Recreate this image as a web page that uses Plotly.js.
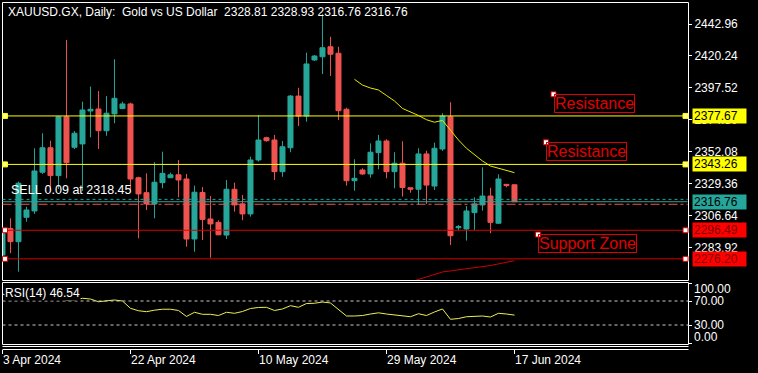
<!DOCTYPE html>
<html><head><meta charset="utf-8">
<script src="https://cdn.plot.ly/plotly-3.0.1.min.js"></script>
<style>html,body{margin:0;padding:0;background:#000;overflow:hidden}#chart{width:758px;height:373px}</style>
</head><body><div id="chart"></div>
<script>
const dates = ['2024-04-03','2024-04-04','2024-04-05','2024-04-07','2024-04-08','2024-04-09','2024-04-10','2024-04-11','2024-04-12','2024-04-14',
'2024-04-15','2024-04-16','2024-04-17','2024-04-18','2024-04-19','2024-04-21','2024-04-22','2024-04-23','2024-04-24','2024-04-25',
'2024-04-26','2024-04-28','2024-04-29','2024-04-30','2024-05-01','2024-05-02','2024-05-03','2024-05-05','2024-05-06','2024-05-07',
'2024-05-08','2024-05-09','2024-05-10','2024-05-12','2024-05-13','2024-05-14','2024-05-15','2024-05-16','2024-05-17','2024-05-19',
'2024-05-20','2024-05-21','2024-05-22','2024-05-23','2024-05-24','2024-05-26','2024-05-27','2024-05-28','2024-05-29','2024-05-30',
'2024-05-31','2024-06-02','2024-06-03','2024-06-04','2024-06-05','2024-06-06','2024-06-07','2024-06-09','2024-06-10','2024-06-11',
'2024-06-12','2024-06-13','2024-06-14','2024-06-16','2024-06-17'];
const open = [2278.9,2297.8,2288.4,2305.7,2310.2,2337.7,2355.1,2335.3,2377.1,2355.4,
2357.8,2381.2,2382.6,2367.2,2379.1,2382.9,2386.2,2333.8,2323.2,2315.2,
2330.3,2333.8,2335.9,2332.9,2290.3,2323.3,2304.5,2302.1,2293.1,2325.6,
2315.2,2308.1,2346.4,2362.2,2360.6,2338.1,2355.1,2391.8,2377.6,2417.4,
2419.7,2426.8,2422.2,2382.4,2331.7,2339.3,2336.5,2351.6,2359.9,2338.1,
2344.1,2326.7,2325.6,2350.7,2327.9,2354.2,2377.1,2298.3,2297.4,2309.0,
2314.5,2320.8,2301.5,2329.1,2328.81];
const high = [2296.7,2305.0,2331.0,2313.2,2354.7,2365.4,2360.1,2377.6,2431.6,2367.0,
2387.8,2398.5,2395.4,2391.8,2417.9,2387.8,2387.1,2334.5,2336.9,2344.8,
2352.3,2337.4,2346.4,2336.5,2328.2,2327.2,2320.8,2303.6,2332.2,2330.3,
2321.5,2348.7,2378.3,2362.9,2364.2,2359.9,2392.5,2397.7,2422.6,2420.9,
2450.1,2433.9,2426.8,2383.5,2346.9,2340.5,2358.2,2364.2,2361.1,2351.9,
2359.7,2326.7,2354.7,2353.0,2358.7,2379.6,2387.4,2300.2,2313.7,2319.9,
2341.2,2326.7,2336.2,2329.1,2328.93];
const low = [2276.5,2280.2,2267.1,2302.6,2308.1,2336.5,2325.1,2325.8,2333.4,2354.2,
2324.4,2362.5,2354.2,2363.6,2372.5,2382.9,2325.1,2290.8,2310.9,2305.0,
2326.3,2333.8,2319.9,2284.8,2281.3,2289.6,2277.0,2293.0,2290.3,2309.7,
2303.6,2306.2,2345.2,2359.4,2332.2,2334.5,2351.9,2370.5,2373.6,2416.7,
2407.5,2406.0,2374.8,2328.2,2324.6,2335.8,2333.8,2339.8,2333.4,2326.3,
2320.4,2323.2,2314.5,2315.2,2325.1,2352.8,2286.0,2296.7,2289.2,2296.7,
2310.4,2294.4,2301.0,2327.0,2316.76];
const close = [2294.4,2288.4,2329.9,2310.9,2338.6,2355.1,2335.3,2377.1,2344.5,2365.4,
2381.9,2382.4,2367.2,2379.6,2390.2,2386.2,2332.9,2322.3,2315.2,2330.6,
2336.9,2335.9,2332.2,2290.3,2323.5,2304.2,2301.0,2293.3,2325.6,2314.5,
2308.1,2346.4,2360.6,2360.1,2338.1,2355.8,2391.8,2377.6,2414.6,2420.2,
2426.1,2421.5,2381.4,2331.7,2333.4,2336.5,2351.9,2359.9,2338.1,2344.1,
2326.9,2325.6,2350.7,2328.6,2354.7,2377.6,2292.6,2299.0,2310.2,2315.2,
2320.8,2302.1,2332.9,2328.2,2316.76];
// yellow indicator line, from 2024-05-24
const maValues = [2403.7,2399.6,2397.5,2396.1,2392.2,2388.3,2383.0,2380.7,2378.0,2375.0,2373.2,2374.5,2367.7,2360.6,2354.7,2350.0,2345.7,2342.1,2340.7,2339.3,2337.4];
// red indicator line, from 2024-06-02
const lowerValues = [2259.8,2261.7,2263.5,2265.2,2266.9,2267.6,2268.3,2269.0,2269.7,2270.6,2271.5,2272.6,2273.6,2274.9];
const rsiValues = [81.7,77,82,81,83,85,80,78.5,70.8,71.7,74.5,73.3,68.8,70,71.7,70,57.8,53.8,52.2,54.7,
56.3,56.3,54.2,44.2,51.2,47.8,47.8,45.8,51.2,49.5,52.5,57.5,59.2,59.5,54.2,56.7,62.2,59.5,65.8,66.2,
68.3,66.7,55.8,45,45,45.8,48.3,50.3,48.3,46.7,44.2,43.8,48.8,45.8,51.7,56.7,39.5,40.8,43.8,45,
45,43.3,49.5,48.3,46.54];
const resistanceLevels = [2377.67, 2343.26];
const supportLevels = [2296.49, 2276.20];
const bidPrice = 2316.76;
const sellPrice = 2318.45;
const stopPrice = 2314.95;
const priceTicks = [2442.96,2420.24,2397.52,2374.80,2352.08,2329.36,2306.64,2283.92];
const rsiTicks = [100,70,30,0];
const rsiTickText = ['100.00','70.00','30.00','0.00'];
const rsiLevels = [70,30];
const dateTickVals = ['2024-04-03','2024-04-22','2024-05-10','2024-05-29','2024-06-17'];
const dateTickText = ['3 Apr 2024','22 Apr 2024','10 May 2024','29 May 2024','17 Jun 2024'];
const textLabels = [
  {text:'Resistance', price:2393.05, px:553.5},
  {text:'Resistance', price:2358.97, px:546},
  {text:'Support Zone', price:2293.5, px:538}
];

const W=758,H=373;
const px=x=>x/W, py=y=>(H-y)/H;
const FONT='Liberation Sans, Arial, sans-serif';
const TEAL='#26a69a', RED='#ef5350', YEL='#ffff00', LRED='#d80000';
const L=2.5, R=688.5;

const traces=[
 {type:'candlestick',x:dates,open:open,high:high,low:low,close:close,xaxis:'x',yaxis:'y',
  increasing:{line:{color:TEAL,width:1},fillcolor:TEAL},
  decreasing:{line:{color:RED,width:1},fillcolor:RED},
  whiskerwidth:0,hoverinfo:'skip',showlegend:false},
 {type:'scatter',mode:'lines',x:dates.slice(44),y:maValues,xaxis:'x',yaxis:'y',line:{color:'#e8e800',width:1},hoverinfo:'skip',showlegend:false},
 {type:'scatter',mode:'lines',x:dates.slice(51),y:lowerValues,xaxis:'x',yaxis:'y',line:{color:'#cc0000',width:1},hoverinfo:'skip',showlegend:false},
 {type:'scatter',mode:'lines',x:dates,y:rsiValues,xaxis:'x',yaxis:'y2',line:{color:'#eeee55',width:1},hoverinfo:'skip',showlegend:false}
];

const shapes=[];
const frame=(x0,y0,x1,y1)=>shapes.push({type:'rect',xref:'paper',yref:'paper',x0:px(x0),x1:px(x1),y0:py(y0),y1:py(y1),line:{color:'#ffffff',width:1},layer:'above'});
frame(L,2.5,R,280.5);
frame(L,282.5,R,344.5);
[346.5,349.5].forEach(y=>shapes.push({type:'line',xref:'paper',yref:'paper',x0:px(L),x1:px(R),y0:py(y),y1:py(y),line:{color:'#ffffff',width:1}}));
const hline=(price,color,dash)=>shapes.push({type:'line',xref:'paper',yref:'y',x0:px(L),x1:px(R-1),y0:price,y1:price,line:{color:color,width:1,dash:dash||'solid'}});
resistanceLevels.forEach(p=>hline(p,YEL));
supportLevels.forEach(p=>hline(p,LRED));
hline(sellPrice,TEAL,'3px,3px');
hline(bidPrice,TEAL);
hline(stopPrice,RED,'dashdot');
rsiLevels.forEach(v=>shapes.push({type:'line',xref:'paper',yref:'y2',x0:px(L),x1:px(R),y0:v,y1:v,line:{color:'#c8c8c8',width:1,dash:'3px,3px'}}));
const handle=(xp,price,fill,border)=>shapes.push({type:'rect',xref:'paper',yref:'y',xsizemode:'pixel',ysizemode:'pixel',xanchor:px(xp),yanchor:price,x0:-2.5,x1:2.5,y0:-2.5,y1:2.5,fillcolor:fill,line:{color:border,width:1},layer:'above'});
resistanceLevels.forEach(p=>{handle(5,p,'#ffff90',YEL);handle(685.5,p,'#ffff90',YEL);});
supportLevels.forEach(p=>{handle(5,p,'#ffffff',LRED);handle(685.5,p,'#ffffff',LRED);});
textLabels.forEach(t=>handle(t.px,t.price,'#ffffff',LRED));

const ann=[];
ann.push({xref:'paper',yref:'paper',x:px(6),y:py(12),xanchor:'left',yanchor:'middle',showarrow:false,
  text:'XAUUSD.GX, Daily:\u00a0\u00a0Gold vs US Dollar\u00a0\u00a02328.81 2328.93 2316.76 2316.76',font:{family:FONT,size:12,color:'#ffffff'}});
ann.push({xref:'paper',yref:'y',x:px(9),y:sellPrice,xanchor:'left',yanchor:'bottom',yshift:0,showarrow:false,
  text:'SELL 0.09 at 2318.45',font:{family:FONT,size:12.5,color:'#ffffff'}});
ann.push({xref:'paper',yref:'paper',x:px(4),y:py(293),xanchor:'left',yanchor:'middle',showarrow:false,bgcolor:'#000000',borderpad:0,
  text:'RSI(14) 46.54',font:{family:FONT,size:12,color:'#ffffff'}});
textLabels.forEach(t=>ann.push({xref:'paper',yref:'y',x:px(t.px),y:t.price,xanchor:'left',yanchor:'top',showarrow:false,
  text:t.text,font:{family:FONT,size:16,color:'#e00000'},bordercolor:'#e00000',borderwidth:1,borderpad:0}));
const priceLabel=(price,bg,fg)=>ann.push({xref:'paper',yref:'y',x:px(691.5),y:price,xanchor:'left',yanchor:'middle',showarrow:false,
  text:price.toFixed(2),bgcolor:bg,width:51,height:12,align:'left',borderpad:1,font:{family:FONT,size:12,color:fg}});
resistanceLevels.forEach(p=>priceLabel(p,'#ffff00','#000000'));
priceLabel(bidPrice,TEAL,'#000000');
supportLevels.forEach(p=>priceLabel(p,'#ff0000','#800000'));
rsiTicks.forEach((v,i)=>ann.push({xref:'paper',yref:'y2',x:px(692),y:v,xanchor:'left',yanchor:'middle',showarrow:false,
  yshift: v===100?-6:(v===0?6:0), text:rsiTickText[i],font:{family:FONT,size:12,color:'#ffffff'}}));

const layout={
  width:W,height:H,margin:{l:0,r:0,t:0,b:0},paper_bgcolor:'#000',plot_bgcolor:'#000',
  showlegend:false,boxgap:0.375,boxgroupgap:0,
  xaxis:{type:'category',domain:[px(2),px(688)],range:[-0.06,85.69],anchor:'free',position:py(349),
    tickvals:dateTickVals,ticktext:dateTickText,ticks:'outside',ticklen:4,tickcolor:'#ffffff',
    ticklabelposition:'outside right',tickfont:{family:FONT,size:12,color:'#ffffff'},
    showgrid:false,zeroline:false,showline:false,rangeslider:{visible:false}},
  yaxis:{domain:[py(280),py(2)],range:[2261.18,2458.58],side:'right',anchor:'x',
    tickvals:priceTicks,tickformat:'.2f',ticks:'outside',ticklen:3,tickcolor:'#ffffff',
    tickfont:{family:FONT,size:12,color:'#ffffff'},showgrid:false,zeroline:false,showline:false},
  yaxis2:{domain:[py(343),py(283)],range:[0,100],side:'right',anchor:'x',
    tickvals:rsiTicks,showticklabels:false,ticks:'outside',ticklen:3,tickcolor:'#ffffff',
    showgrid:false,zeroline:false,showline:false},
  shapes:shapes,annotations:ann
};
Plotly.newPlot('chart',traces,layout,{staticPlot:true,displayModeBar:false});
</script></body></html>
